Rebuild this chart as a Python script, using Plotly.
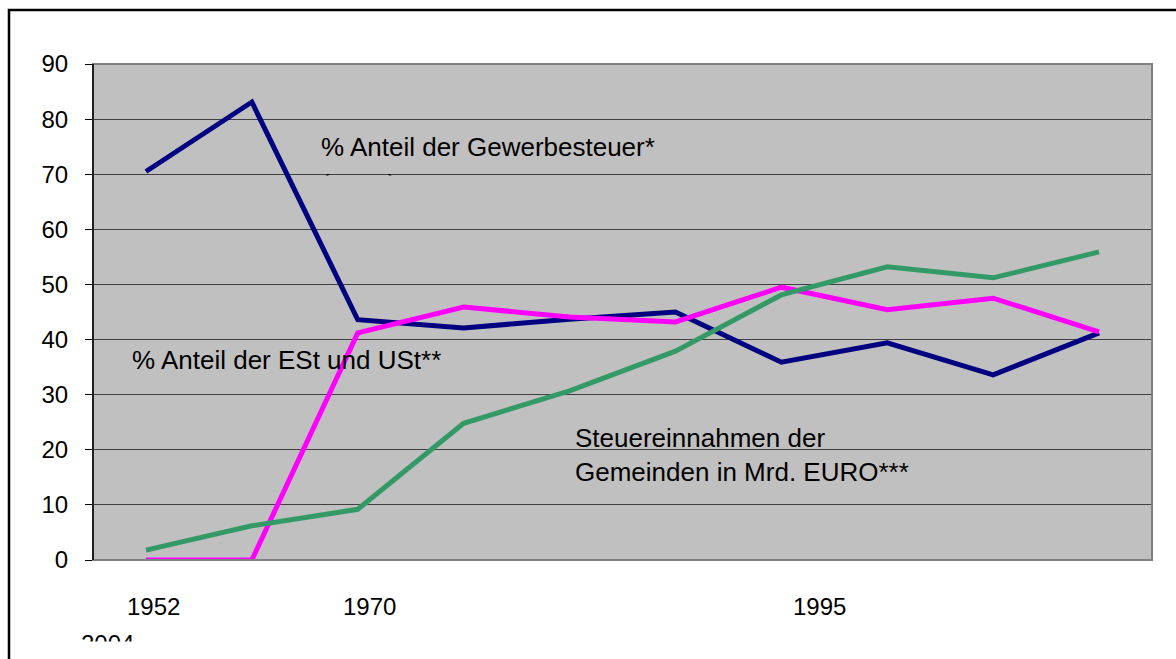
import plotly.graph_objects as go

# ---- data ----
gewerbesteuer_anteil = [70.5, 83.1, 43.6, 42.1, 43.7, 45.0, 35.9, 39.4, 33.6, 41.2]
est_ust_anteil = [0.0, 0.0, 41.2, 45.9, 44.1, 43.2, 49.5, 45.4, 47.5, 41.4]
steuereinnahmen = [1.8, 6.2, 9.2, 24.8, 30.7, 37.9, 48.1, 53.2, 51.2, 55.9]
period_index = list(range(len(gewerbesteuer_anteil)))
year_labels = ["1952", "1970", "1995", "2004"]
y_ticks = [0, 10, 20, 30, 40, 50, 60, 70, 80, 90]

FONT = "Liberation Sans, Arial, sans-serif"
W, H = 1176, 659
L, R, T, B = 93, 1152, 64, 560


def px(x):
    return (x - L) / (R - L)


def py(y):
    return (B - y) / (B - T)


fig = go.Figure()
for vals, col in [
    (gewerbesteuer_anteil, "#000080"),
    (est_ust_anteil, "#FF00FF"),
    (steuereinnahmen, "#339966"),
]:
    fig.add_trace(go.Scatter(x=period_index, y=vals, mode="lines",
                             line=dict(color=col, width=5), hoverinfo="skip"))

ann = []


def text(t, xp, yp, size=26, anchor="left"):
    ann.append(dict(text=t, x=px(xp), y=py(yp), xref="paper", yref="paper",
                    xanchor=anchor, yanchor="middle", showarrow=False,
                    font=dict(family=FONT, size=size, color="black")))


text("% Anteil der Gewerbesteuer*", 319, 147)
text("(netto)", 319, 184)
text("% Anteil der ESt und USt**", 130, 360)
text("Steuereinnahmen der", 573, 438)
text("Gemeinden in Mrd. EURO***", 573, 472)
text(year_labels[0], 153, 606, 24, "center")
text(year_labels[1], 369, 606, 24, "center")
text(year_labels[2], 819, 606, 24, "center")
text(year_labels[3], 107, 643, 24, "center")

# cover boxes to imitate clipped text boxes
ann.append(dict(text=" ", x=px(316), y=py(175), xref="paper", yref="paper",
                xanchor="left", yanchor="top", showarrow=False, width=120, height=30,
                bgcolor="#C0C0C0", borderpad=0, font=dict(size=10)))
ann.append(dict(text=" ", x=px(60), y=py(641), xref="paper", yref="paper",
                xanchor="left", yanchor="top", showarrow=False, width=110, height=24,
                bgcolor="white", borderpad=0, font=dict(size=10)))

shapes = [
    dict(type="rect", xref="paper", yref="paper", x0=0, x1=1, y0=0, y1=1,
         line=dict(color="#808080", width=2), layer="above"),
    dict(type="rect", xref="paper", yref="paper", x0=px(9), x1=px(1250), y0=py(10), y1=py(720),
         line=dict(color="black", width=2.5), layer="above"),
    dict(type="line", xref="paper", yref="paper", x0=0, x1=0, y0=0, y1=1,
         line=dict(color="black", width=1.5), layer="above"),
]

fig.update_layout(
    width=W, height=H,
    margin=dict(l=L, r=W - R, t=T, b=H - B, pad=0),
    paper_bgcolor="white", plot_bgcolor="#C0C0C0",
    showlegend=False,
    font=dict(family=FONT, size=24, color="black"),
    annotations=ann, shapes=shapes,
)
fig.update_xaxes(range=[-0.5, 9.5], showticklabels=False, showgrid=False,
                 zeroline=False, ticks="", showline=False, fixedrange=True)
fig.update_yaxes(range=[0, 90], tickvals=y_ticks, showgrid=True, gridcolor="#404040",
                 gridwidth=1, zeroline=False, ticks="outside", ticklen=7,
                 tickcolor="black", tickwidth=1, ticklabelstandoff=12,
                 tickfont=dict(family=FONT, size=24, color="black"),
                 showline=False, fixedrange=True)

fig.write_html("out.html", config={"displayModeBar": False},
               post_script="document.body.style.margin='0';document.body.style.overflow='hidden';")
